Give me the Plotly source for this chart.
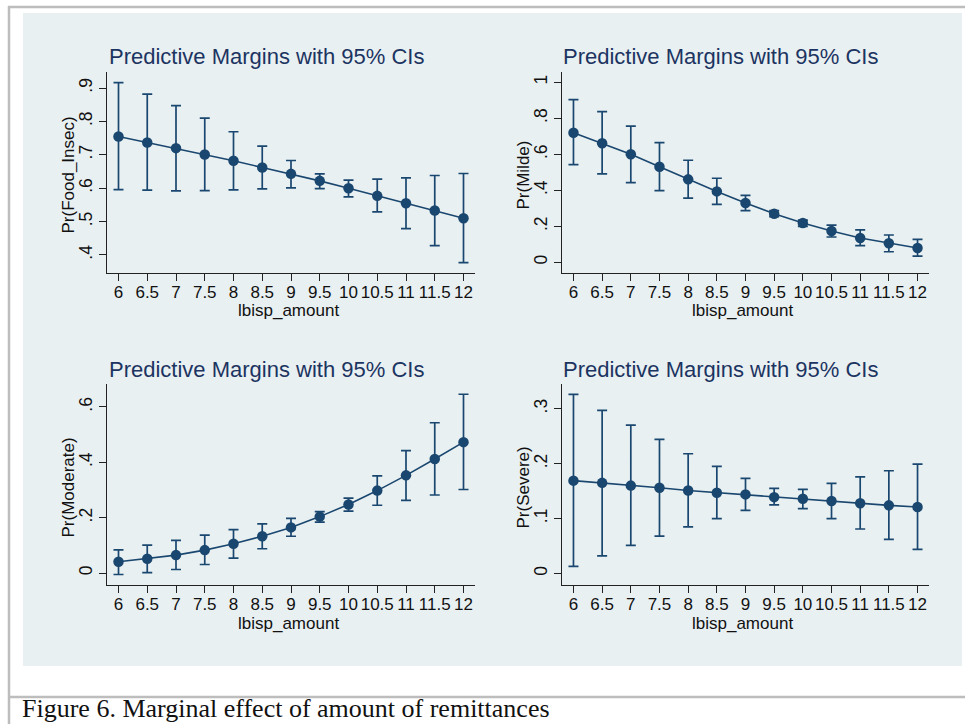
import plotly.graph_objects as go

# ---- data: predictive margins with 95% CIs by lbisp_amount ----
lbisp_amount = [6, 6.5, 7, 7.5, 8, 8.5, 9, 9.5, 10, 10.5, 11, 11.5, 12]
x_tick_text = ["6", "6.5", "7", "7.5", "8", "8.5", "9", "9.5", "10", "10.5", "11", "11.5", "12"]

food_insec = [0.755, 0.737, 0.720, 0.701, 0.682, 0.662, 0.643, 0.622, 0.600, 0.577, 0.555, 0.533, 0.510]
food_insec_hi = [0.916, 0.882, 0.847, 0.810, 0.769, 0.726, 0.683, 0.643, 0.624, 0.627, 0.631, 0.638, 0.644]
food_insec_lo = [0.596, 0.594, 0.592, 0.593, 0.595, 0.598, 0.601, 0.599, 0.574, 0.529, 0.479, 0.428, 0.377]

milde = [0.720, 0.661, 0.600, 0.531, 0.461, 0.394, 0.330, 0.270, 0.219, 0.174, 0.135, 0.106, 0.080]
milde_hi = [0.904, 0.837, 0.757, 0.665, 0.567, 0.467, 0.372, 0.287, 0.235, 0.207, 0.180, 0.152, 0.128]
milde_lo = [0.543, 0.491, 0.443, 0.398, 0.357, 0.322, 0.287, 0.254, 0.200, 0.141, 0.093, 0.059, 0.035]

moderate = [0.041, 0.052, 0.065, 0.083, 0.106, 0.133, 0.165, 0.204, 0.248, 0.298, 0.353, 0.412, 0.473]
moderate_hi = [0.084, 0.101, 0.118, 0.137, 0.157, 0.178, 0.198, 0.222, 0.271, 0.351, 0.442, 0.543, 0.646]
moderate_lo = [-0.005, 0.002, 0.013, 0.031, 0.054, 0.088, 0.133, 0.184, 0.224, 0.245, 0.263, 0.282, 0.302]

severe = [0.169, 0.165, 0.160, 0.156, 0.151, 0.147, 0.144, 0.139, 0.136, 0.132, 0.128, 0.124, 0.121]
severe_hi = [0.326, 0.297, 0.270, 0.244, 0.218, 0.195, 0.173, 0.155, 0.153, 0.164, 0.176, 0.187, 0.199]
severe_lo = [0.013, 0.032, 0.051, 0.068, 0.085, 0.100, 0.115, 0.125, 0.118, 0.100, 0.081, 0.062, 0.044]

panel_titles = ["Predictive Margins with 95% CIs"] * 4
y_titles = ["Pr(Food_Insec)", "Pr(Milde)", "Pr(Moderate)", "Pr(Severe)"]
y_tick_vals = [[0.4, 0.5, 0.6, 0.7, 0.8, 0.9],
               [0, 0.2, 0.4, 0.6, 0.8, 1],
               [0, 0.2, 0.4, 0.6],
               [0, 0.1, 0.2, 0.3]]
y_tick_text = [[".4", ".5", ".6", ".7", ".8", ".9"],
               ["0", ".2", ".4", ".6", ".8", "1"],
               ["0", ".2", ".4", ".6"],
               ["0", ".1", ".2", ".3"]]
y_ranges = [[0.346, 0.948], [-0.059, 1.057], [-0.043, 0.683], [-0.021, 0.345]]
caption = "Figure 6. Marginal effect of amount of remittances"

series = [(food_insec, food_insec_lo, food_insec_hi),
          (milde, milde_lo, milde_hi),
          (moderate, moderate_lo, moderate_hi),
          (severe, severe_lo, severe_hi)]

# ---- page geometry (pixels) ----
W, H = 965, 724
NAVY = "#1a476f"
TITLE_C = "#1c3461"
PANEL = "#e9f0f2"
FRAME = "#bdbdbd"
FONT = "Liberation Sans, Arial, sans-serif"

# plot boxes: (left, right, top, bottom)
boxes = [(107, 475, 72, 273), (562, 929, 72, 273),
         (107, 475, 384, 585), (562, 929, 384, 585)]


def px(x):
    return x / W


def py(y):
    return 1 - y / H


fig = go.Figure()
layout = dict(
    width=W, height=H,
    margin=dict(l=0, r=0, t=0, b=0),
    paper_bgcolor="white",
    plot_bgcolor="white",
    showlegend=False,
    font=dict(family=FONT, color="#111111", size=17),
)

annotations = []
for i, ((l, r, t, b), (mean, lo, hi)) in enumerate(zip(boxes, series)):
    n = i + 1
    xa = "x" if n == 1 else f"x{n}"
    ya = "y" if n == 1 else f"y{n}"
    fig.add_trace(go.Scatter(
        x=lbisp_amount, y=mean, xaxis=xa, yaxis=ya,
        mode="lines+markers",
        line=dict(color=NAVY, width=1.6),
        marker=dict(color=NAVY, size=10.5),
        error_y=dict(type="data", symmetric=False,
                     array=[h - m for h, m in zip(hi, mean)],
                     arrayminus=[m - lo_ for m, lo_ in zip(mean, lo)],
                     color=NAVY, thickness=1.7, width=5),
        hoverinfo="x+y",
    ))
    xkey = "xaxis" if n == 1 else f"xaxis{n}"
    ykey = "yaxis" if n == 1 else f"yaxis{n}"
    layout[xkey] = dict(
        domain=[px(l), px(r)], anchor=ya, range=[5.8, 12.2],
        tickvals=lbisp_amount, ticktext=x_tick_text,
        ticks="outside", ticklen=7, tickwidth=1.2, tickcolor="#222222",
        ticklabelstandoff=-4,
        showline=True, linecolor="#222222", linewidth=1.2,
        showgrid=False, zeroline=False,
        tickfont=dict(size=17, color="#111111"),
    )
    layout[ykey] = dict(
        domain=[py(b), py(t)], anchor=xa, range=y_ranges[i],
        tickvals=y_tick_vals[i], ticktext=y_tick_text[i],
        tickangle=-90,
        ticks="outside", ticklen=7, tickwidth=1.2, tickcolor="#222222",
        showline=True, linecolor="#222222", linewidth=1.2,
        showgrid=True, gridcolor="#e6eff2", gridwidth=1.2,
        zeroline=False,
        tickfont=dict(size=17.5, color="#111111"),
    )
    # panel title, centred over the graph region
    annotations.append(dict(
        text=panel_titles[i], xref="paper", yref="paper",
        x=px((l + r) / 2 - 25), y=py(t - 15), xanchor="center", yanchor="middle",
        showarrow=False, font=dict(size=22, color=TITLE_C, family=FONT),
    ))
    # x-axis title
    annotations.append(dict(
        text="lbisp_amount", xref="paper", yref="paper",
        x=px((l + 6 + r - 12) / 2), y=py(b + 38), xanchor="center", yanchor="middle",
        showarrow=False, font=dict(size=17, color="#111111", family=FONT),
    ))
    # y-axis title
    annotations.append(dict(
        text=y_titles[i], xref="paper", yref="paper",
        x=px(l - 39), y=py((t + b) / 2 + 3), xanchor="center", yanchor="middle",
        textangle=-90, showarrow=False,
        font=dict(size=17, color="#111111", family=FONT),
    ))

annotations.append(dict(
    text=caption, xref="paper", yref="paper",
    x=px(21), y=0, xanchor="left", yanchor="bottom",
    showarrow=False, borderpad=0,
    font=dict(size=26, color="#111111", family="Liberation Serif, Times New Roman, serif"),
))
layout["annotations"] = annotations

layout["shapes"] = [
    # light graph-region panel
    dict(type="rect", xref="paper", yref="paper", layer="below",
         x0=px(23), x1=px(962), y0=py(666), y1=py(13),
         fillcolor=PANEL, line=dict(width=0)),
    # outer frame lines
    dict(type="line", xref="paper", yref="paper",
         x0=px(8), x1=1, y0=py(7), y1=py(7), line=dict(color=FRAME, width=2.5)),
    dict(type="line", xref="paper", yref="paper",
         x0=px(9), x1=px(9), y0=py(6), y1=0, line=dict(color=FRAME, width=2.5)),
    dict(type="line", xref="paper", yref="paper",
         x0=px(8), x1=1, y0=py(697), y1=py(697), line=dict(color=FRAME, width=2.5)),
]

fig.update_layout(**layout)
fig.write_html("out.html")
